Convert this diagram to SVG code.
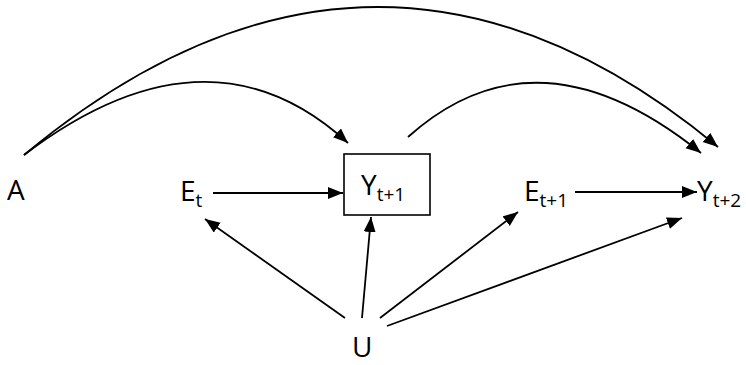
<svg xmlns="http://www.w3.org/2000/svg" width="746" height="365" viewBox="0 0 746 365">
  <style>
    .lbl { font-family: "Open Sans", "Liberation Sans", sans-serif; font-size: 28px; fill: #000; }
    .sub { font-size: 19px; }
    .edge { fill: none; stroke: #000; stroke-width: 1.8; marker-end: url(#ah); }
    .box { fill: #fff; stroke: #000; stroke-width: 1.6; }
  </style>
  <defs>
    <marker id="ah" markerUnits="userSpaceOnUse" markerWidth="16" markerHeight="13" refX="15" refY="6" orient="auto" viewBox="0 0 16 13">
      <path d="M0,0 L15,6 L0,12 z" fill="#000"/>
    </marker>
  </defs>
  <rect width="746" height="365" fill="#fff"/>
  <g id="connectors">
    <path class="edge" d="M24,155 Q375,-137 718,147"/>
    <path class="edge" d="M24,155 Q208,15 348,143"/>
    <path class="edge" d="M408,137 Q537,21 701,153"/>
    <path class="edge" d="M213,193 L343,193"/>
    <path class="edge" d="M575,192 L697,192"/>
    <path class="edge" d="M345,318 L205,219"/>
    <path class="edge" d="M362,318 L371,217"/>
    <path class="edge" d="M380,318 L518,212"/>
    <path class="edge" d="M387,326 L682,218"/>
  </g>
  <g id="node-A"><text class="lbl" x="7" y="200">A</text></g>
  <g id="node-Et"><text class="lbl" x="180" y="201">E<tspan class="sub" dy="6">t</tspan></text></g>
  <g id="node-Yt1">
    <rect class="box" x="344" y="154" width="86" height="61"/>
    <text class="lbl" x="361" y="195">Y<tspan class="sub" dy="6">t+1</tspan></text>
  </g>
  <g id="node-Et1"><text class="lbl" x="524" y="201">E<tspan class="sub" dy="6">t+1</tspan></text></g>
  <g id="node-Yt2"><text class="lbl" x="697" y="201">Y<tspan class="sub" dy="6">t+2</tspan></text></g>
  <g id="node-U"><text class="lbl" x="352" y="357">U</text></g>
</svg>
